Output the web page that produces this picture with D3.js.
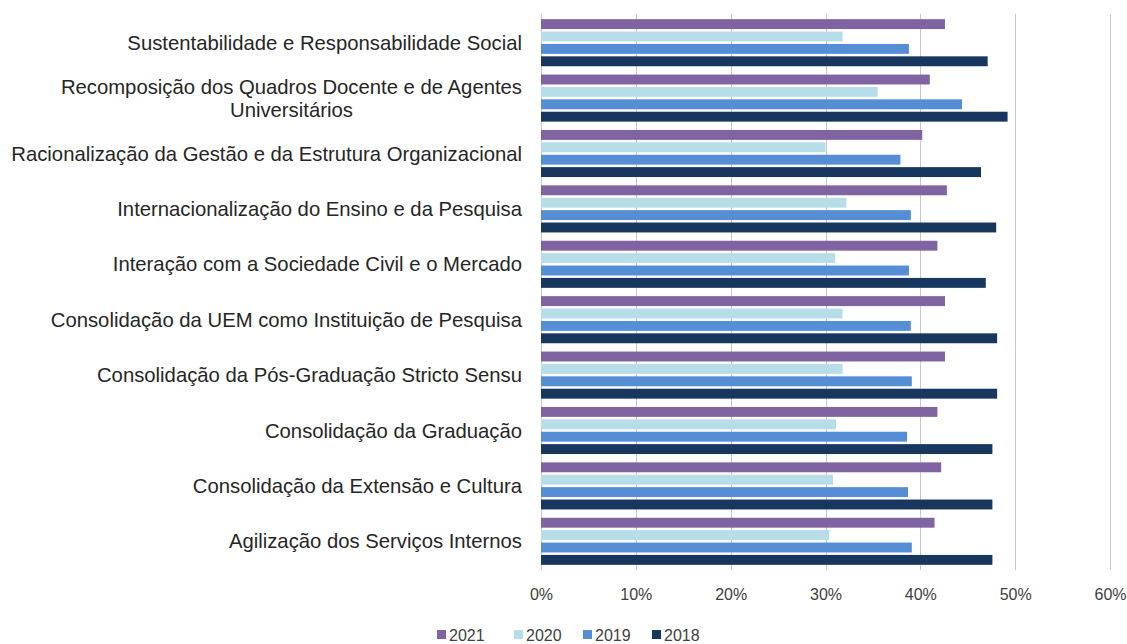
<!DOCTYPE html>
<html>
<head>
<meta charset="utf-8">
<script src="https://cdn.jsdelivr.net/npm/d3@7"></script>
<style>
  html, body { margin: 0; padding: 0; background: #fff; }
  svg { display: block; }
</style>
</head>
<body>
<svg id="chart" width="1127" height="644"></svg>
<script>
// Strategic axes of the plan (top to bottom)
const categories = [
  "Sustentabilidade e Responsabilidade Social",
  "Recomposição dos Quadros Docente e de Agentes Universitários",
  "Racionalização da Gestão e da Estrutura Organizacional",
  "Internacionalização do Ensino e da Pesquisa",
  "Interação com a Sociedade Civil e o Mercado",
  "Consolidação da UEM como Instituição de Pesquisa",
  "Consolidação da Pós-Graduação Stricto Sensu",
  "Consolidação da Graduação",
  "Consolidação da Extensão e Cultura",
  "Agilização dos Serviços Internos"
];

// Yearly series, listed in the order bars appear inside each group
const years = ["2021", "2020", "2019", "2018"];

const values2021 = [0.426, 0.410, 0.402, 0.428, 0.418, 0.426, 0.426, 0.418, 0.422, 0.415];
const values2020 = [0.318, 0.355, 0.300, 0.322, 0.310, 0.318, 0.318, 0.311, 0.308, 0.304];
const values2019 = [0.388, 0.444, 0.379, 0.390, 0.388, 0.390, 0.391, 0.386, 0.387, 0.391];
const values2018 = [0.471, 0.492, 0.464, 0.480, 0.469, 0.481, 0.481, 0.476, 0.476, 0.476];

const xTicks = [0, 0.1, 0.2, 0.3, 0.4, 0.5, 0.6];

const seriesValues = { "2021": values2021, "2020": values2020, "2019": values2019, "2018": values2018 };
const colors = { "2021": "#8064A2", "2020": "#B7DEE8", "2019": "#558ED5", "2018": "#17375E" };

const svg = d3.select("#chart");
const margin = { left: 541, right: 17, top: 15, bottom: 75 };
const W = 1127, H = 644;

const x = d3.scaleLinear().domain([0, 0.6]).range([margin.left, W - margin.right]);
const y0 = d3.scaleBand().domain(categories).range([margin.top, H - margin.bottom])
  .paddingInner(0.15).paddingOuter(0.075);
const y1 = d3.scaleBand().domain(years).range([0, y0.bandwidth()]).paddingInner(0.2).paddingOuter(0);

// Vertical gridlines
svg.append("g")
  .selectAll("line")
  .data(xTicks)
  .join("line")
  .attr("x1", d => Math.round(x(d)) + 0.5)
  .attr("x2", d => Math.round(x(d)) + 0.5)
  .attr("y1", margin.top - 1)
  .attr("y2", H - margin.bottom + 1)
  .attr("stroke", "#c8c8c8")
  .attr("stroke-width", 1);

// Bars
const groups = svg.append("g")
  .selectAll("g")
  .data(categories)
  .join("g")
  .attr("transform", d => `translate(0,${y0(d)})`);

groups.selectAll("rect")
  .data((c, i) => years.map(yr => ({ year: yr, value: seriesValues[yr][i] })))
  .join("rect")
  .attr("x", x(0))
  .attr("y", d => y1(d.year))
  .attr("width", d => x(d.value) - x(0))
  .attr("height", y1.bandwidth())
  .attr("fill", d => colors[d.year]);

// X axis tick labels
const xAxis = d3.axisBottom(x).tickValues(xTicks).tickFormat(d3.format(".0%")).tickSize(0).tickPadding(0);
const gx = svg.append("g")
  .attr("transform", `translate(0,${H - margin.bottom + 20})`)
  .call(xAxis);
gx.select(".domain").remove();
gx.selectAll("text")
  .attr("font-family", "Liberation Sans, Arial, sans-serif")
  .attr("font-size", 16)
  .attr("fill", "#404040");

// Category labels, wrapped and centred as a block, right-aligned to the axis
const labelRight = margin.left - 19;
const maxLabelWidth = 520;
const lineHeight = 23;
const labelG = svg.append("g")
  .attr("font-family", "Liberation Sans, Arial, sans-serif")
  .attr("font-size", 20.3)
  .attr("fill", "#262626");

categories.forEach(cat => {
  const cy = y0(cat) + y0.bandwidth() / 2;
  const t = labelG.append("text").attr("text-anchor", "middle");
  const words = cat.split(" ");
  const lines = [];
  let current = [];
  const probe = t.append("tspan");
  words.forEach(w => {
    const test = current.concat([w]).join(" ");
    probe.text(test);
    if (probe.node().getComputedTextLength() > maxLabelWidth && current.length) {
      lines.push(current.join(" "));
      current = [w];
    } else {
      current.push(w);
    }
  });
  lines.push(current.join(" "));
  probe.remove();
  const widths = lines.map(l => {
    const s = t.append("tspan").text(l);
    const w = s.node().getComputedTextLength();
    s.remove();
    return w;
  });
  const blockW = d3.max(widths);
  const cx = labelRight - blockW / 2;
  const firstY = cy - (lines.length - 1) * lineHeight / 2;
  lines.forEach((l, i) => {
    t.append("tspan")
      .attr("x", cx)
      .attr("y", firstY + i * lineHeight)
      .attr("dy", "0.35em")
      .text(l);
  });
});

// Legend
const legendX = [437, 514, 583, 652];
const legend = svg.append("g")
  .attr("font-family", "Liberation Sans, Arial, sans-serif")
  .attr("font-size", 16)
  .attr("fill", "#404040");
years.forEach((yr, i) => {
  legend.append("rect")
    .attr("x", legendX[i])
    .attr("y", 630)
    .attr("width", 9)
    .attr("height", 9)
    .attr("fill", colors[yr]);
  legend.append("text")
    .attr("x", legendX[i] + 12)
    .attr("y", 635)
    .attr("dy", "0.35em")
    .text(yr);
});
</script>
</body>
</html>
